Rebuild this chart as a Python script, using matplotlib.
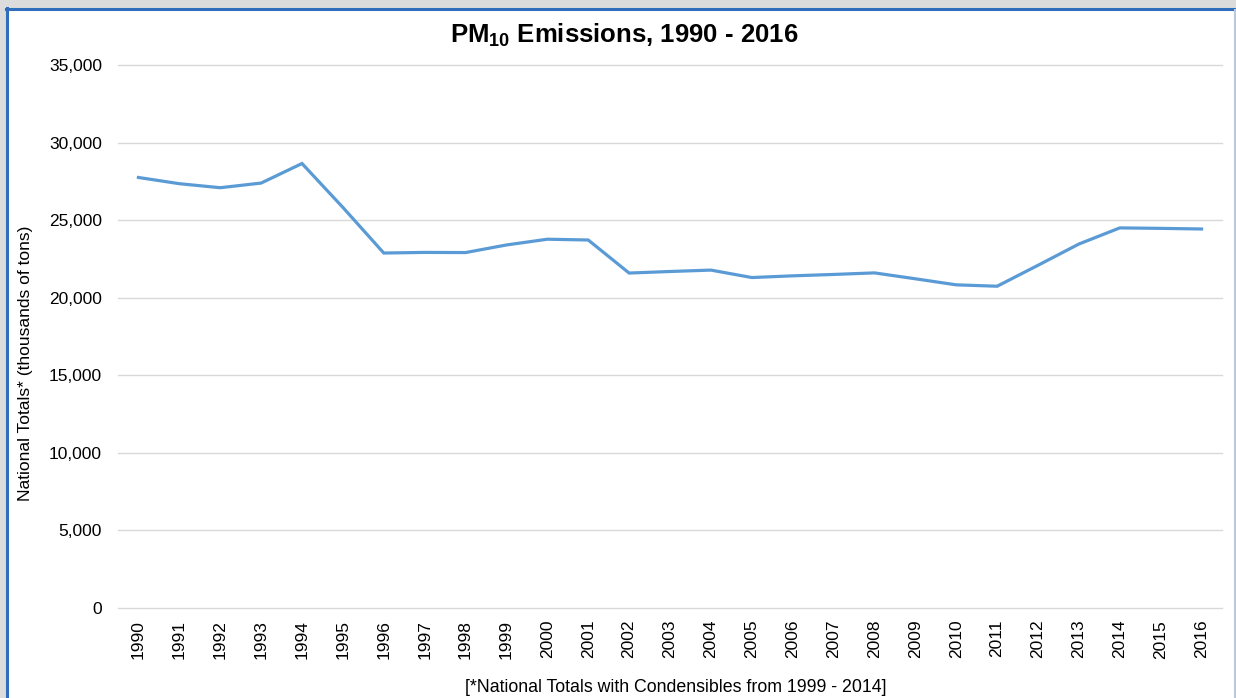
import matplotlib
matplotlib.use("Agg")
import matplotlib.pyplot as plt
from matplotlib.patches import Rectangle
from matplotlib.lines import Line2D
from matplotlib.ticker import FuncFormatter

plt.rcParams['font.family'] = ['Liberation Sans', 'DejaVu Sans']

years = [str(y) for y in range(1990, 2017)]
emissions = [27750, 27350, 27090, 27390, 28650, 25820, 22880, 22920, 22910, 23400,
             23770, 23720, 21590, 21690, 21780, 21300, 21410, 21500, 21600, 21220,
             20830, 20740, 22090, 23460, 24500, 24470, 24430]
y_ticks = [0, 5000, 10000, 15000, 20000, 25000, 30000, 35000]

W, H = 1236, 698
fig = plt.figure(figsize=(W / 100, H / 100), dpi=100)
fig.patch.set_facecolor('#dcdcdc')

# white panel with blue border (left & top)
fig.patches.append(Rectangle((6 / W, 0), (1234 - 6) / W, (H - 8) / H,
                             transform=fig.transFigure, facecolor='white',
                             edgecolor='none', zorder=-3))
fig.lines.append(Line2D([7 / W, 7 / W], [0, (H - 8) / H], transform=fig.transFigure,
                        color='#2f6ebd', linewidth=2.2, zorder=-2))
fig.lines.append(Line2D([6 / W, 1234 / W], [(H - 9) / H, (H - 9) / H], transform=fig.transFigure,
                        color='#2f6ebd', linewidth=2.2, zorder=-2))
fig.lines.append(Line2D([1235 / W, 1235 / W], [0, (H - 10) / H], transform=fig.transFigure,
                        color='#b9c9dd', linewidth=1.5, zorder=-2))

left, right, top, bottom = 118, 1222, 65, 608
ax = fig.add_axes([left / W, (H - bottom) / H, (right - left) / W, (bottom - top) / H])
ax.set_facecolor('none')

x = list(range(len(years)))
ax.plot(x, emissions, color='#5b9bd5', linewidth=2.3, solid_joinstyle='miter', zorder=3)

ax.set_xlim(-0.5, len(years) - 0.5)
ax.set_ylim(0, 35000)
ax.set_yticks(y_ticks)
ax.yaxis.set_major_formatter(FuncFormatter(lambda v, p: f"{int(v):,}"))
ax.set_xticks(x)
ax.set_xticklabels(years, rotation=90)
ax.grid(axis='y', color='#d9d9d9', linewidth=1.0)
for gl in ax.get_ygridlines():
    gl.set_clip_on(False)
ax.set_axisbelow(True)
for s in ax.spines.values():
    s.set_visible(False)
ax.tick_params(axis='both', length=0, labelsize=12.5, colors='#000000')
ax.tick_params(axis='y', pad=11.5)
ax.tick_params(axis='x', pad=8.5)

fig.text(26 / W, (H - 363) / H, 'National Totals* (thousands of tons)', rotation=90,
         ha='center', va='center', fontsize=12.5)
fig.text(675.5 / W, (H - 688) / H, '[*National Totals with Condensibles from 1999 - 2014]',
         ha='center', va='center', fontsize=12.8)

fig.text(624 / W, (H - 35) / H, r'PM$_{\mathregular{10}}$ Emissions, 1990 - 2016', ha='center', va='center',
         fontsize=18.5, fontweight='bold')

fig.savefig('out.png', dpi=100, facecolor=fig.get_facecolor())
